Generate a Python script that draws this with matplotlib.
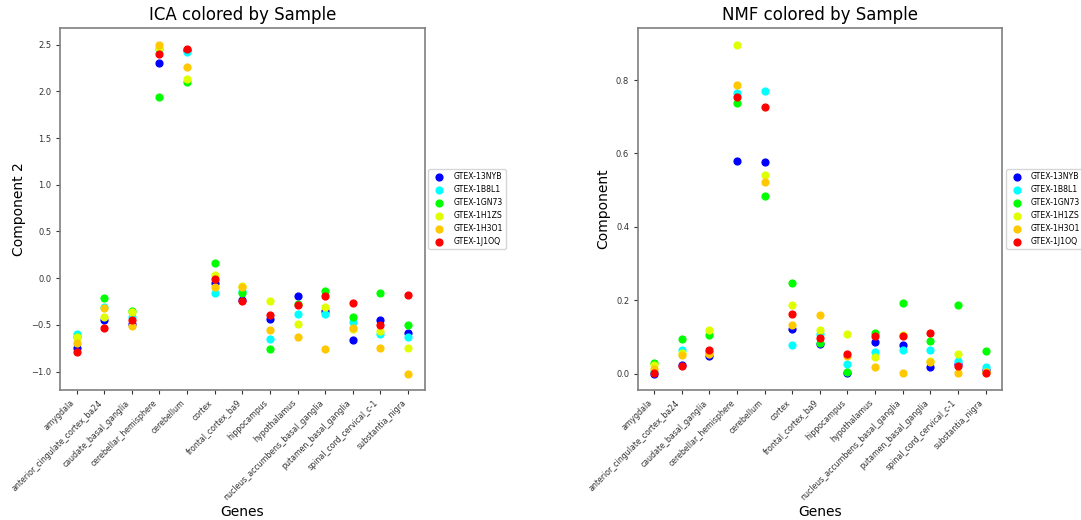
import matplotlib
matplotlib.use("Agg")
import matplotlib.pyplot as plt
import numpy as np

# ── data ─────────────────────────────────────────────────────────────────────
genes = [
    "amygdala", "anterior_cingulate_cortex_ba24", "caudate_basal_ganglia",
    "cerebellar_hemisphere", "cerebellum", "cortex", "frontal_cortex_ba9",
    "hippocampus", "hypothalamus", "nucleus_accumbens_basal_ganglia",
    "putamen_basal_ganglia", "spinal_cord_cervical_c-1", "substantia_nigra",
]
samples = ["GTEX-13NYB", "GTEX-1B8L1", "GTEX-1GN73",
           "GTEX-1H1ZS", "GTEX-1H3O1", "GTEX-1J1OQ"]
sample_colors = ["#0000ff", "#00ffff", "#00ff00", "#dfff00", "#ffc800", "#ff0000"]

ica_13nyb = [-0.75, -0.45, -0.49, 2.30, 2.44, -0.05, -0.23, -0.44, -0.19, -0.35, -0.66, -0.45, -0.59]
ica_1b8l1 = [-0.60, -0.31, -0.42, 2.45, 2.42, -0.16, -0.14, -0.65, -0.38, -0.38, -0.47, -0.60, -0.63]
ica_1gn73 = [-0.63, -0.21, -0.35, 1.94, 2.10, 0.16, -0.16, -0.76, -0.28, -0.14, -0.42, -0.16, -0.50]
ica_1h1zs = [-0.63, -0.42, -0.36, 2.46, 2.13, 0.03, -0.08, -0.24, -0.49, -0.31, -0.54, -0.57, -0.75]
ica_1h3o1 = [-0.69, -0.32, -0.51, 2.50, 2.26, -0.09, -0.09, -0.55, -0.63, -0.76, -0.53, -0.75, -1.02]
ica_1j1oq = [-0.79, -0.53, -0.45, 2.40, 2.45, -0.005, -0.24, -0.39, -0.29, -0.19, -0.26, -0.50, -0.18]

nmf_13nyb = [0.000, 0.024, 0.047, 0.579, 0.576, 0.122, 0.080, 0.002, 0.086, 0.077, 0.017, 0.027, 0.010]
nmf_1b8l1 = [0.003, 0.063, 0.060, 0.766, 0.769, 0.079, 0.109, 0.027, 0.060, 0.063, 0.064, 0.034, 0.018]
nmf_1gn73 = [0.028, 0.093, 0.106, 0.737, 0.484, 0.247, 0.083, 0.004, 0.110, 0.192, 0.090, 0.188, 0.062]
nmf_1h1zs = [0.023, 0.055, 0.119, 0.897, 0.541, 0.188, 0.119, 0.108, 0.046, 0.104, 0.034, 0.052, 0.005]
nmf_1h3o1 = [0.012, 0.051, 0.054, 0.786, 0.521, 0.132, 0.159, 0.048, 0.019, 0.002, 0.031, 0.002, 0.003]
nmf_1j1oq = [0.002, 0.020, 0.064, 0.754, 0.726, 0.161, 0.098, 0.054, 0.103, 0.102, 0.111, 0.021, 0.002]

ica_values = [ica_13nyb, ica_1b8l1, ica_1gn73, ica_1h1zs, ica_1h3o1, ica_1j1oq]
nmf_values = [nmf_13nyb, nmf_1b8l1, nmf_1gn73, nmf_1h1zs, nmf_1h3o1, nmf_1j1oq]

EDGE = "#7f7f7f"


def scatter_panel(ax, values, title, ylabel):
    x = np.arange(len(genes))
    for name, col, vals in zip(samples, sample_colors, values):
        ax.scatter(x, vals, s=24, color=col, label=name, zorder=3)

    ax.set_xticks(x)
    ax.set_xticklabels(genes, rotation=45, ha="right", fontsize=5.7)
    ax.tick_params(axis="y", labelsize=6.0)
    ax.tick_params(colors="#333333", length=3, pad=3)
    for sp in ax.spines.values():
        sp.set_color(EDGE)
        sp.set_linewidth(1.2)

    ax.set_title(title, fontsize=12)
    ax.set_xlabel("Genes", fontsize=10, labelpad=2)
    ax.set_ylabel(ylabel, fontsize=10)
    ax.legend(loc="center left", bbox_to_anchor=(1.0, 0.5), fontsize=5.6,
              scatterpoints=1, edgecolor="#cccccc")


fig, (ax1, ax2) = plt.subplots(1, 2, figsize=(10.81, 5.20), dpi=100)
fig.subplots_adjust(left=0.0555, right=0.927, bottom=0.25, top=0.946, wspace=0.584)

scatter_panel(ax1, ica_values, "ICA colored by Sample", "Component 2")
scatter_panel(ax2, nmf_values, "NMF colored by Sample", "Component")

fig.savefig("out.png", dpi=100)
plt.close(fig)
